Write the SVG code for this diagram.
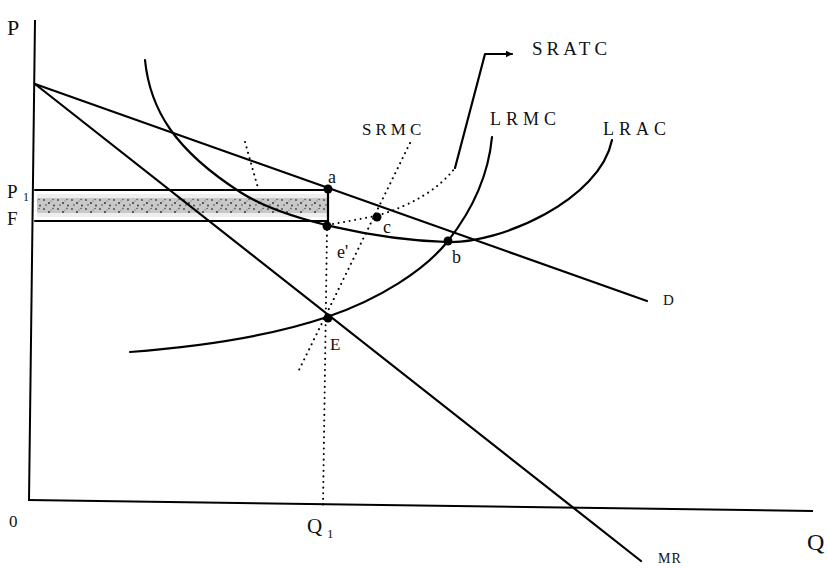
<svg xmlns="http://www.w3.org/2000/svg" width="828" height="569" viewBox="0 0 828 569">
<style>
.ln{fill:none;stroke:#000;stroke-width:2.2;stroke-linecap:round;stroke-linejoin:round}
.ax{fill:none;stroke:#000;stroke-width:2}
.dt{fill:none;stroke:#000;stroke-width:2;stroke-linecap:round;stroke-dasharray:0.1 5.5}
.pt{fill:#000}
text{font-family:"Liberation Serif","Times New Roman",serif;fill:#111}
.lb{font-size:18px;letter-spacing:5px}
.sm{font-size:18px}
</style>
<defs>
<marker id="arr" viewBox="0 0 10 10" refX="9" refY="5" markerWidth="7" markerHeight="7" orient="auto" markerUnits="userSpaceOnUse">
<path d="M0,0 L10,5 L0,10 z" fill="#000"/>
</marker>
<pattern id="stip" width="14" height="9" patternUnits="userSpaceOnUse">
<rect width="14" height="9" fill="#c8c8c8"/>
<circle cx="2" cy="2" r="0.9" fill="#444"/>
<circle cx="7" cy="5" r="1" fill="#333"/>
<circle cx="11" cy="1.5" r="0.8" fill="#555"/>
<circle cx="4" cy="7" r="0.8" fill="#444"/>
<circle cx="12" cy="7.5" r="0.9" fill="#333"/>
<circle cx="9" cy="3" r="0.6" fill="#666"/>
</pattern>
</defs>

<g id="shading">
<rect x="37" y="194" width="290" height="23" fill="#eee"/>
<rect x="37" y="198" width="290" height="15" fill="url(#stip)"/>
</g>

<g id="axes">
<path class="ax" d="M35,20 L29,500"/>
<path class="ax" d="M28,500 L813,511"/>
</g>

<g id="connectors">
<path id="demand" class="ln" d="M35,84 L647,301"/>
<path id="mr" class="ln" d="M35,84 L641,561"/>
<path id="lrac" class="ln" d="M145,60 C150,110 175,150 240,192 C285,221 380,240 447,242 C500,244 600,200 612,140"/>
<path id="lrmc" class="ln" d="M130,352 C220,345 280,333 327,317 C380,299 425,270 448,241 C470,213 488,180 492,137"/>
<path id="p1line" class="ln" d="M35,190 L328,190"/>
<path id="fline" class="ln" d="M35,221 L328,221"/>
<path id="aline" class="ln" d="M328,190 L328,226"/>
<path id="q1line" class="dt" d="M327,230 L323,506"/>
<path id="srmc" class="dt" d="M410,143 L299,370"/>
<path id="sratc-left" class="dt" d="M245,142 L258,188"/>
<path id="sratc-right" class="dt" d="M333,224 L376,216 Q430,200 455,168"/>
<path id="leader" class="ln" d="M455,168 L485,54 L512,54" marker-end="url(#arr)"/>
</g>

<g id="points">
<circle id="pa" class="pt" cx="328" cy="189" r="4.5"/>
<circle id="pf" class="pt" cx="327" cy="226" r="4.5"/>
<circle id="pc" class="pt" cx="377" cy="217" r="4.5"/>
<circle id="pb" class="pt" cx="448" cy="241" r="4.5"/>
<circle id="pE" class="pt" cx="328" cy="318" r="4.5"/>
</g>

<g id="labels">
<text x="7" y="35" font-size="22">P</text>
<text x="7" y="198" font-size="19">P</text>
<text x="23" y="201" font-size="12">1</text>
<text x="7" y="225" font-size="19">F</text>
<text x="9" y="527" font-size="17">0</text>
<text x="307" y="533" font-size="21">Q</text>
<text x="327" y="538" font-size="13">1</text>
<text x="658" y="563" font-size="14" letter-spacing="1">MR</text>
<text x="807" y="550" font-size="24">Q</text>
<text x="663" y="305" font-size="15">D</text>
<text x="532" y="55" font-size="19" letter-spacing="4">SRATC</text>
<text x="490" y="125" class="lb">LRMC</text>
<text x="603" y="135" class="lb">LRAC</text>
<text x="362" y="135" font-size="17" letter-spacing="4">SRMC</text>
<text x="328" y="183" class="sm">a</text>
<text x="383" y="233" class="sm">c</text>
<text x="337" y="258" class="sm">e'</text>
<text x="452" y="263" class="sm">b</text>
<text x="330" y="350" font-size="17">E</text>
</g>
</svg>
